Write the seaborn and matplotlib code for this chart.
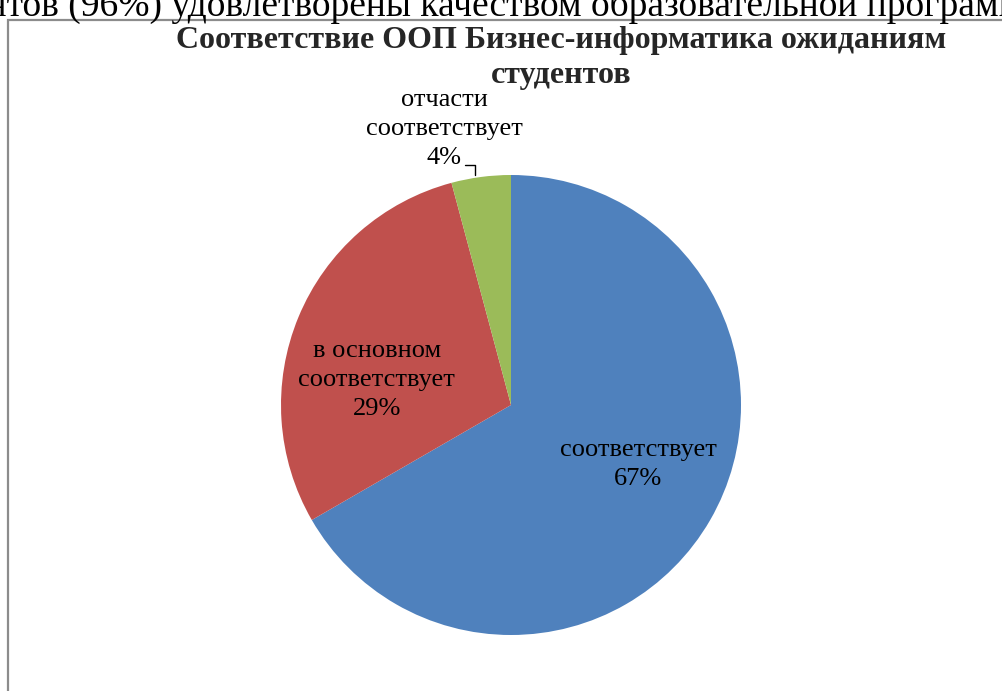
import matplotlib
matplotlib.use('Agg')
import matplotlib.pyplot as plt
from matplotlib.patches import Rectangle
import seaborn as sns
import numpy as np

# Data
categories = ['соответствует', 'в основном\nсоответствует', 'отчасти\nсоответствует']
counts = [16, 7, 1]
colours = ['#4F81BD', '#C0504D', '#9BBB59']
title = 'Соответствие ООП Бизнес-информатика ожиданиям\nстудентов'
top_line = 'ентов (96%) удовлетворены качеством образовательной программы'

sns.set_theme(style='white')
plt.rcParams['font.family'] = ['Liberation Serif', 'DejaVu Serif']

fig = plt.figure(figsize=(10.03, 6.91), dpi=100)

# cropped text line from the surrounding document
fig.text(-0.03, 1.0 - 16 / 691, top_line, fontsize=27, ha='left', va='baseline', color='black')

# chart frame
fig.patches.append(Rectangle((8 / 1003, -0.1), 1.1, 1 - 20 / 691 + 0.1, transform=fig.transFigure,
                             fill=False, edgecolor='#8c8c8c', linewidth=1.6))

fig.text(561.5 / 1003, 1 - 58 / 691, title, fontsize=23, fontweight='bold', ha='center', va='center',
         linespacing=1.3)

ax = fig.add_axes([281 / 1003, 56 / 691, 460 / 1003, 460 / 691])
pcts = np.array(counts) / np.sum(counts) * 100
wedges, _ = ax.pie(counts, colors=colours, startangle=90, counterclock=False, radius=1,
                   wedgeprops=dict(linewidth=0))
ax.set_xlim(-1, 1)
ax.set_ylim(-1, 1)
ax.axis('off')

label_pos = [(0.552, -0.26), (-0.583, 0.11), (-0.29, 1.2)]
for i, (x, y) in enumerate(label_pos):
    ax.text(x, y, f'{categories[i]}\n{pcts[i]:.0f}%', ha='center', va='center', fontsize=19,
            linespacing=1.42, color='black')

# leader line for small slice
ax.plot([-0.2, -0.155, -0.155], [1.045, 1.045, 0.998], color='black', linewidth=1, clip_on=False)

fig.savefig('out.png', dpi=100)
